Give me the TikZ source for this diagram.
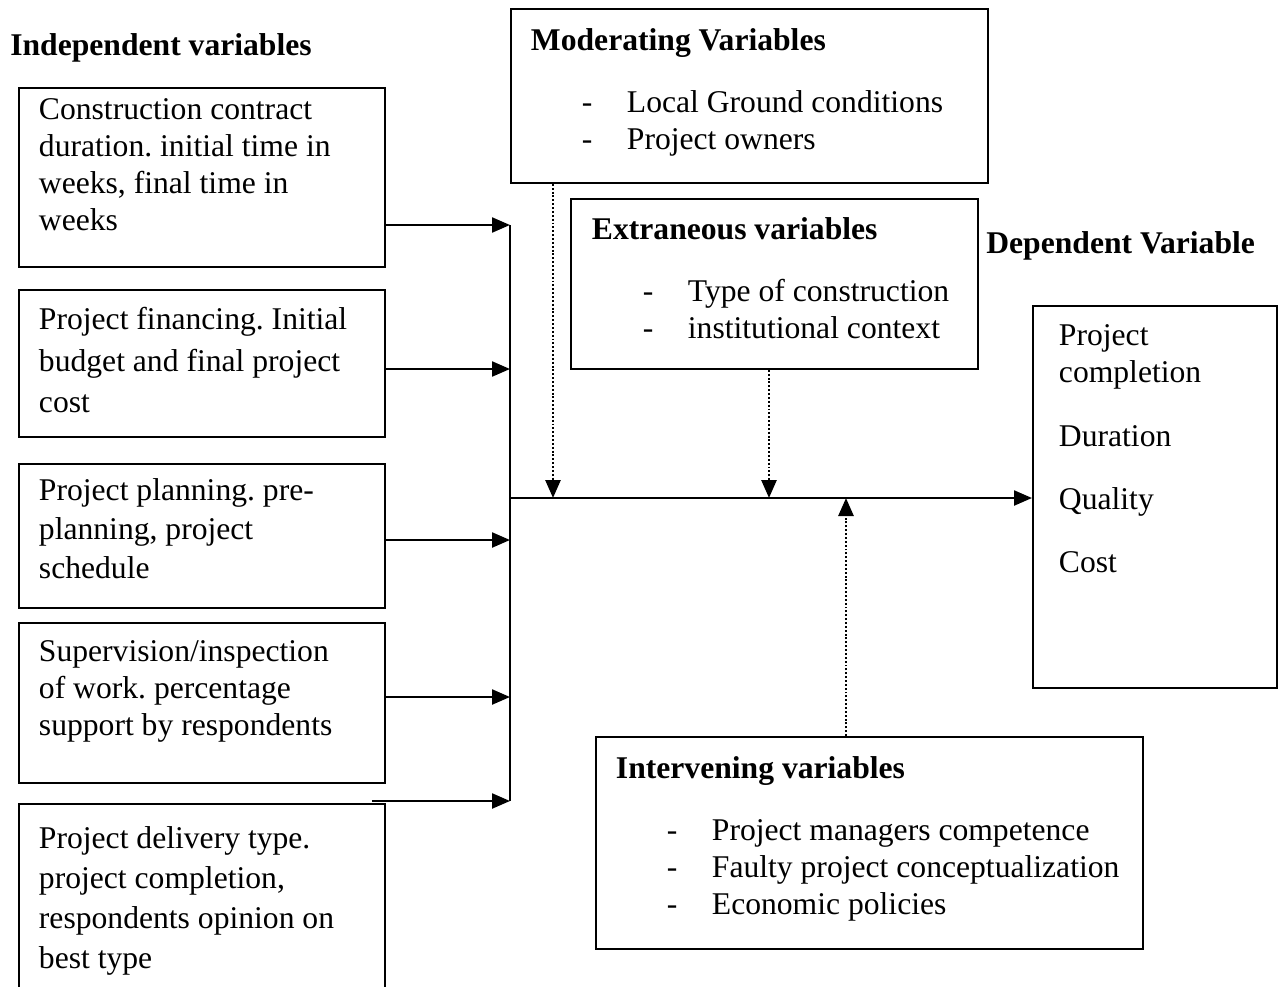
\documentclass[tikz,border=0pt]{standalone}
\usepackage{fontspec}
\setmainfont{Liberation Serif}
\usetikzlibrary{arrows.meta}
\frenchspacing
% box text: [left pad]{width}{height}{top pad}{text}
\newcommand\boxtext[5][0.4cm]{\parbox[c][#3][t]{#2}{\raggedright\leftskip=#1\relax\vspace*{#4}#5}}
\newcommand\itm[1]{\hspace*{1.02cm}\makebox[0.9cm][l]{-}#1}
\begin{document}
\begin{tikzpicture}[x=0.02cm, y=-0.02cm, font=\fontsize{18pt}{21pt}\selectfont,
  box/.style={draw, line width=1.1pt, inner sep=0pt, anchor=north west},
  arr/.style={line width=1.3pt, -{Triangle[length=0.36cm, width=0.3cm]}},
  dotarr/.style={arr, line width=1.5pt, dash pattern=on 1.1pt off 1.1pt}]
\useasboundingbox (0,0) rectangle (1278,987);
% independent variables
\node[anchor=base west, inner sep=0pt] (indep) at (10,55) {\textbf{Independent variables}};
\node[box] (contract) at (18,87) {\boxtext{7.32cm}{3.58cm}{0.22cm}{Construction contract\\duration. initial time in\\weeks, final time in\\weeks}};
\node[box] (finance) at (18,289) {\boxtext{7.32cm}{2.94cm}{0.34cm}{\baselineskip=23.8pt Project financing. Initial\\budget and final project\\cost}};
\node[box] (planning) at (18,463) {\boxtext{7.32cm}{2.88cm}{0.3cm}{\baselineskip=22.1pt Project planning. pre-\\planning, project\\schedule}};
\node[box] (supervision) at (18,622) {\boxtext{7.32cm}{3.2cm}{0.36cm}{Supervision/inspection\\of work. percentage\\support by respondents}};
\node[box] (delivery) at (18,803) {\boxtext{7.32cm}{3.9cm}{0.46cm}{\baselineskip=22.7pt Project delivery type.\\project completion,\\respondents opinion on\\best type}};
% moderating / extraneous / intervening
\node[box] (moderating) at (510,8) {\boxtext{9.54cm}{3.48cm}{0.4cm}{\textbf{Moderating Variables}\\[14pt]\itm{Local Ground conditions}\\\itm{Project owners}}};
\node[box] (extraneous) at (570,198) {\boxtext[0.42cm]{8.14cm}{3.4cm}{0.38cm}{\textbf{Extraneous variables}\\[14pt]\itm{Type of construction}\\\itm{institutional context}}};
\node[box] (intervening) at (595,736) {\boxtext{10.94cm}{4.24cm}{0.4cm}{\textbf{Intervening variables}\\[14pt]\itm{Project managers competence}\\\itm{Faulty project conceptualization}\\\itm{Economic policies}}};
% dependent variable
\node[anchor=base west, inner sep=0pt] (deplabel) at (986,253) {\textbf{Dependent Variable}};
\node[box] (completion) at (1032,305) {\boxtext[0.52cm]{4.88cm}{7.64cm}{0.38cm}{Project\\completion\\[15pt]Duration\\[15pt]Quality\\[15pt]Cost}};
% connectors
\coordinate (in1) at (510,225);
\coordinate (in2) at (510,369);
\coordinate (in3) at (510,540);
\coordinate (in4) at (510,697);
\coordinate (in5) at (510,801);
\coordinate (join) at (510,498);
\coordinate (modin) at (553,498);
\coordinate (extin) at (769,498);
\coordinate (intin) at (846,498);
\draw[arr] (contract.east |- in1) -- (in1);
\draw[arr] (finance.east |- in2) -- (in2);
\draw[arr] (planning.east |- in3) -- (in3);
\draw[arr] (supervision.east |- in4) -- (in4);
\draw[arr] ([xshift=-0.28cm]delivery.north east |- in5) -- (in5);
\draw[line width=1.3pt] (in1) -- (in5);
\draw[arr] (join) -- (completion.west |- join);
\draw[dotarr] (moderating.south -| modin) -- (modin);
\draw[dotarr] (extraneous.south -| extin) -- (extin);
\draw[dotarr] (intervening.north -| intin) -- (intin);
\end{tikzpicture}
\end{document}
